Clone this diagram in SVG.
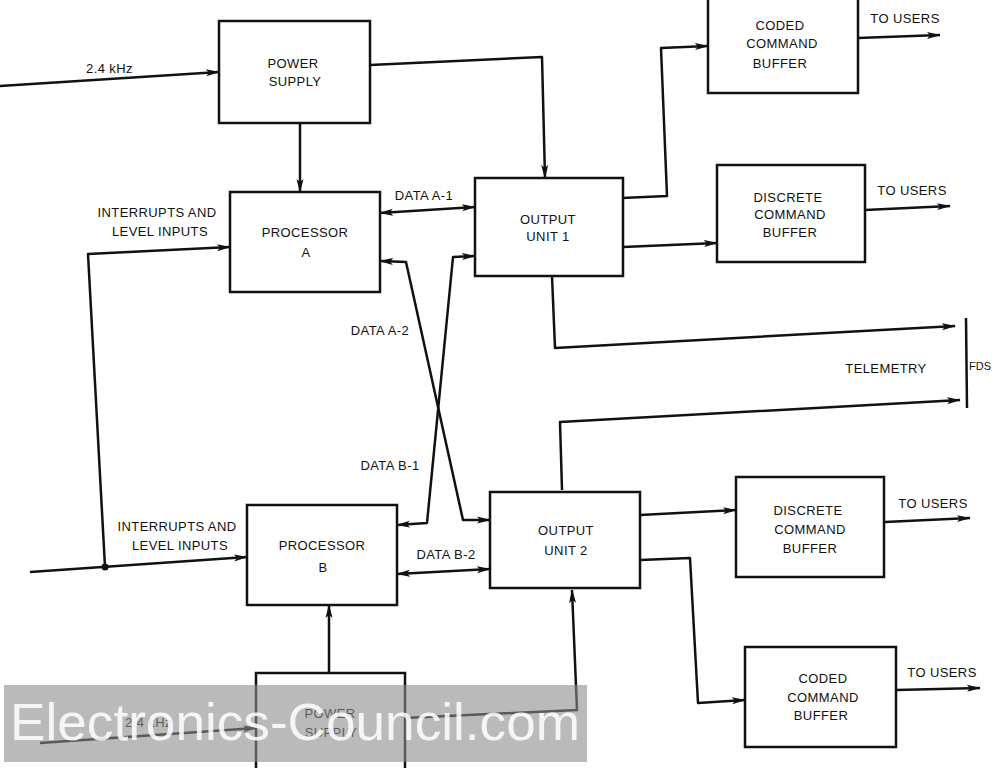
<svg xmlns="http://www.w3.org/2000/svg" width="995" height="768" viewBox="0 0 995 768">
<style>
.box{fill:#fff;stroke:#111;stroke-width:2.5}
.ln{fill:none;stroke:#111;stroke-width:2.5;stroke-linejoin:round}
text{font-family:"Liberation Sans",Arial,sans-serif;font-size:13px;fill:#111;letter-spacing:0.4px}
.c{text-anchor:middle}
.wm{font-size:52px;fill:#fff;fill-opacity:0.85;letter-spacing:0}
</style>
<defs>
<marker id="ah" markerUnits="userSpaceOnUse" markerWidth="16" markerHeight="12" refX="13" refY="5" orient="auto-start-reverse" viewBox="0 0 16 10">
<path d="M0,1.5 L14,5 L0,8.5 L3,5 Z" fill="#111"/>
</marker>
</defs>
<rect width="995" height="768" fill="#fff"/>
<g id="connectors">
<path class="ln" d="M0,86 L219,72" marker-end="url(#ah)"/>
<path class="ln" d="M370,65 L542,57 L545,178" marker-end="url(#ah)"/>
<path class="ln" d="M300,123 L300,192" marker-end="url(#ah)"/>
<path class="ln" d="M380,213 L475,207" marker-start="url(#ah)" marker-end="url(#ah)"/>
<path class="ln" d="M380,261 L406,262 L463,520 L490,520" marker-start="url(#ah)" marker-end="url(#ah)"/>
<path class="ln" d="M475,256 L453,257 L427,523 L397,525" marker-start="url(#ah)" marker-end="url(#ah)"/>
<path class="ln" d="M397,574 L490,569" marker-start="url(#ah)" marker-end="url(#ah)"/>
<path class="ln" d="M30,572 L247,557" marker-end="url(#ah)"/>
<path class="ln" d="M105,567 L88,254 L230,247" marker-end="url(#ah)"/>
<circle cx="105" cy="567" r="3.5" fill="#111"/>
<path class="ln" d="M329,673 L329,605" marker-end="url(#ah)"/>
<path class="ln" d="M405,718 L577,710 L572,590" marker-end="url(#ah)"/>
<path class="ln" d="M40,743 L256,728" marker-end="url(#ah)"/>
<path class="ln" d="M622,198 L667,196 L661,48 L708,46" marker-end="url(#ah)"/>
<path class="ln" d="M623,247 L717,243" marker-end="url(#ah)"/>
<path class="ln" d="M858,38 L940,35" marker-end="url(#ah)"/>
<path class="ln" d="M865,210 L950,206" marker-end="url(#ah)"/>
<path class="ln" d="M552,276 L555,348 L955,326" marker-end="url(#ah)"/>
<path class="ln" d="M562,490 L560,422 L960,400" marker-end="url(#ah)"/>
<path class="ln" d="M966,318 L967,408" stroke-width="1.8"/>
<path class="ln" d="M640,515 L736,510" marker-end="url(#ah)"/>
<path class="ln" d="M885,522 L970,518" marker-end="url(#ah)"/>
<path class="ln" d="M640,560 L690,558 L698,703 L745,700" marker-end="url(#ah)"/>
<path class="ln" d="M896,690 L980,688" marker-end="url(#ah)"/>
</g>
<g id="ps-top"><rect class="box" x="219" y="21" width="151" height="102"/><text class="c" x="293" y="68">POWER</text><text class="c" x="295" y="86">SUPPLY</text></g>
<g id="proc-a"><rect class="box" x="230" y="192" width="150" height="100"/><text class="c" x="305" y="237">PROCESSOR</text><text class="c" x="306" y="257">A</text></g>
<g id="out-1"><rect class="box" x="475" y="178" width="148" height="98"/><text class="c" x="548" y="224">OUTPUT</text><text class="c" x="548" y="241">UNIT 1</text></g>
<g id="ccb-top"><rect class="box" x="708" y="-3" width="150" height="96"/><text class="c" x="780" y="30">CODED</text><text class="c" x="782" y="48">COMMAND</text><text class="c" x="780" y="68">BUFFER</text></g>
<g id="dcb-top"><rect class="box" x="717" y="165" width="148" height="97"/><text class="c" x="788" y="202">DISCRETE</text><text class="c" x="790" y="219">COMMAND</text><text class="c" x="790" y="237">BUFFER</text></g>
<g id="proc-b"><rect class="box" x="247" y="505" width="150" height="100"/><text class="c" x="322" y="550">PROCESSOR</text><text class="c" x="323" y="572">B</text></g>
<g id="out-2"><rect class="box" x="490" y="492" width="150" height="96"/><text class="c" x="566" y="535">OUTPUT</text><text class="c" x="566" y="555">UNIT 2</text></g>
<g id="dcb-bot"><rect class="box" x="736" y="477" width="148" height="100"/><text class="c" x="808" y="515">DISCRETE</text><text class="c" x="810" y="534">COMMAND</text><text class="c" x="810" y="553">BUFFER</text></g>
<g id="ccb-bot"><rect class="box" x="745" y="647" width="151" height="100"/><text class="c" x="823" y="683">CODED</text><text class="c" x="823" y="702">COMMAND</text><text class="c" x="821" y="720">BUFFER</text></g>
<g id="ps-bot"><rect class="box" x="256" y="673" width="149" height="100"/><text class="c" x="330" y="718">POWER</text><text class="c" x="331" y="737">SUPPLY</text></g>
<g id="labels">
<text x="86" y="73">2.4 kHz</text>
<text class="c" x="157" y="217">INTERRUPTS AND</text>
<text class="c" x="160" y="236">LEVEL INPUTS</text>
<text class="c" x="424" y="200">DATA A-1</text>
<text class="c" x="905" y="23">TO USERS</text>
<text class="c" x="912" y="195">TO USERS</text>
<text class="c" x="380" y="335">DATA A-2</text>
<text class="c" x="390" y="470">DATA B-1</text>
<text class="c" x="886" y="373">TELEMETRY</text>
<text x="969" y="370" style="font-size:11px;letter-spacing:0">FDS</text>
<text class="c" x="177" y="531">INTERRUPTS AND</text>
<text class="c" x="180" y="550">LEVEL INPUTS</text>
<text class="c" x="446" y="559">DATA B-2</text>
<text class="c" x="933" y="508">TO USERS</text>
<text class="c" x="942" y="677">TO USERS</text>
<text x="125" y="727">2.4 kHz</text>
</g>
<g id="watermark">
<rect x="4" y="685" width="583" height="77" fill="#8c8c8c" fill-opacity="0.6"/>
<text class="wm" x="10" y="740" textLength="570" lengthAdjust="spacingAndGlyphs">Electronics-Council.com</text>
</g>
</svg>
